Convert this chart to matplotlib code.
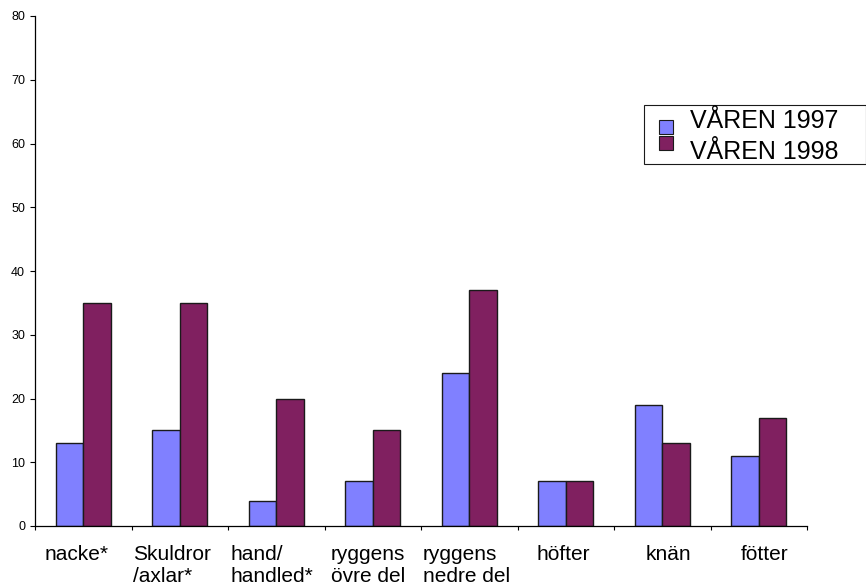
import matplotlib
matplotlib.use("Agg")
import matplotlib.pyplot as plt
from matplotlib.patches import Rectangle
from matplotlib.transforms import ScaledTranslation
import numpy as np

plt.rcParams['font.family'] = ['Liberation Sans', 'DejaVu Sans']

categories = ["nacke*", "Skuldror\n/axlar*", "hand/\nhandled*", "ryggens\növre del",
              "ryggens\nnedre del", "höfter", "knän", "fötter"]
series_1997 = [13, 15, 4, 7, 24, 7, 19, 11]
series_1998 = [35, 35, 20, 15, 37, 7, 13, 17]
series_names = ["VÅREN 1997", "VÅREN 1998"]
y_ticks = [0, 10, 20, 30, 40, 50, 60, 70, 80]

color_1997 = "#8080FF"
color_1998 = "#802060"
edge = "#1a1a1a"

W, H = 866, 585
fig = plt.figure(figsize=(W / 100, H / 100), dpi=100)
ax = fig.add_axes([35 / W, 1 - 526 / H, (807 - 35) / W, (526 - 16) / H])

x = np.arange(len(categories))
w = 0.285
ax.bar(x - w / 2, series_1997, width=w, color=color_1997, edgecolor=edge,
       linewidth=1.0)
ax.bar(x + w / 2, series_1998, width=w, color=color_1998, edgecolor=edge,
       linewidth=1.0)

ax.set_xlim(-0.5, len(categories) - 0.5)
ax.set_ylim(0, 80)
ax.set_yticks(y_ticks)
ax.tick_params(axis='y', labelsize=9, length=3.6, width=0.8, direction='out', pad=3.5)

ax.set_xticks(x)
ax.set_xticklabels(categories, fontsize=15, linespacing=1.2, va='top',
                   multialignment='left')
ax.set_xticks(np.arange(len(categories) + 1) - 0.5, minor=True)
ax.tick_params(axis='x', which='major', length=0, pad=13.5)
ax.tick_params(axis='x', which='minor', length=3, width=0.8, direction='out')

# small horizontal nudges (pixels) of the category labels
label_shift = [-7, -8, -4, -5, -3, -2, 6, 6]
for lab, dx in zip(ax.get_xticklabels(), label_shift):
    lab.set_transform(lab.get_transform() +
                      ScaledTranslation(dx / 100, 0, fig.dpi_scale_trans))

for side in ("top", "right"):
    ax.spines[side].set_visible(False)
for side in ("left", "bottom"):
    ax.spines[side].set_linewidth(0.9)


def px(xp, yp):
    return xp / W, 1 - yp / H


# legend box
lx0, ly0 = px(644, 164)
lx1, ly1 = px(865.5, 105)
fig.add_artist(Rectangle((lx0, ly0), lx1 - lx0, ly1 - ly0, transform=fig.transFigure,
                         facecolor="white", edgecolor=edge, linewidth=0.8))
for i, (name, col) in enumerate(zip(series_names, [color_1997, color_1998])):
    sx, sy = px(659, 134 + i * 15.5)
    fig.add_artist(Rectangle((sx, sy), 14 / W, 13.5 / H, transform=fig.transFigure,
                             facecolor=col, edgecolor=edge, linewidth=0.8))
    tx, ty = px(690, 128 + i * 31)
    fig.text(tx, ty, name, fontsize=18, va='baseline', ha='left')

fig.savefig("out.png", dpi=100)
